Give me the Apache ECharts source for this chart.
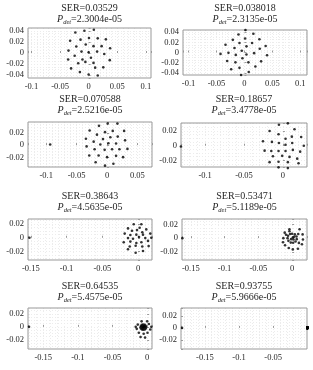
<!DOCTYPE html>
<html><head><meta charset="utf-8">
<script src="https://cdn.jsdelivr.net/npm/echarts@6/dist/echarts.min.js"></script>
<style>html,body{margin:0;padding:0;background:#fff}#c{width:313px;height:370px}</style>
</head><body><div id="c"></div>
<script>
const serLabels = ['0.03529','0.038018','0.070588','0.18657','0.38643','0.53471','0.64535','0.93755'];
const pdetLabels = ['2.3004e-05','2.3135e-05','2.5216e-05','3.4778e-05','4.5635e-05','5.1189e-05','5.4575e-05','5.9666e-05'];

const pts1 = [[-0.0233,0.0369],[-0.0074,0.040],[0.0091,0.0418],
 [-0.0324,0.0221],[-0.0142,0.024],[0.0006,0.027],[0.0159,0.0264],[0.0301,0.0246],
 [-0.0216,0.0117],[-0.0051,0.0154],[0.0085,0.0123],[0.0227,0.0123],
 [-0.0352,0.0043],[-0.0125,0.0025],[0.0,0.0012],[0.0148,0.0025],[0.0375,0.0086],
 [-0.0358,-0.0117],[-0.0244,-0.0049],[-0.0108,-0.0117],[0.004,-0.0086],[0.0273,-0.0018],
 [-0.0182,-0.0185],[-0.0057,-0.016],[0.0085,-0.0178],[0.0369,-0.0129],
 [-0.0307,-0.0277],[0.0114,-0.0264],[0.0256,-0.0258],
 [-0.0153,-0.0344],[0.0,-0.0387],[0.0159,-0.0406]];
const pts2 = [[0.0018,0.044],[-0.0107,0.0353],[0.016,0.0367],
 [-0.0208,0.0247],[0.0012,0.0273],[0.0268,0.026],
 [-0.0339,0.0153],[-0.0089,0.0187],[0.0137,0.0187],[0.0036,0.012],[0.038,0.0127],
 [-0.0178,0.0087],[-0.0048,0.0033],[0.0274,0.0073],
 [-0.0428,-0.0027],[-0.0286,-0.0007],[-0.0155,-0.0047],[0.0036,-0.004],[0.0173,-0.0013],[0.0405,-0.0053],
 [-0.0036,-0.0113],
 [-0.0309,-0.0167],[-0.0161,-0.0193],[0.0071,-0.0193],[0.0298,-0.0173],
 [-0.0238,-0.0327],[-0.0089,-0.03],[0.0196,-0.0273],
 [0.0077,-0.038],[-0.006,-0.044]];
const pts3 = [[-0.0132,0.0317],[0.0011,0.0354],[0.0171,0.0354],
 [-0.0286,0.0239],[-0.0033,0.0213],[0.0094,0.0234],[0.0281,0.0234],
 [-0.0165,0.0172],[0.0055,0.013],[0.0176,0.014],
 [-0.0347,0.0104],[-0.022,0.0057],[-0.0066,0.0099],[0.0022,0.0031],[0.0149,0.0026],[0.0297,0.0078],
 [-0.0935,0.001],
 [-0.0336,-0.0021],[-0.011,0.001],[0.0083,-0.0068],
 [-0.0204,-0.0068],[-0.0039,-0.0078],[0.0204,-0.0068],[0.0336,-0.0062],
 [-0.0292,-0.0172],[-0.0138,-0.0172],[0.0,-0.0198],[0.0149,-0.0177],[0.0264,-0.0198],
 [-0.0187,-0.0281],[0.0105,-0.0307],[-0.0033,-0.0338]];
const pts4 = [[-0.0051,0.0286],[0.0064,0.0305],
 [-0.0171,0.02],[0.0149,0.0224],[-0.0056,0.0157],
 [0.0034,0.0095],[0.0115,0.0124],[0.0235,0.0119],
 [-0.0256,0.0062],[-0.0141,0.0052],[-0.0051,0.0038],[0.0034,0.0014],[0.012,0.0038],[0.0269,0.0],
 [-0.0235,-0.0067],[-0.0149,-0.0071],[-0.0056,-0.0071],[0.0034,-0.0071],[0.0128,-0.0057],[0.0222,-0.0081],
 [-0.0128,-0.0143],[-0.0009,-0.0138],[0.0085,-0.0152],[0.0184,-0.0176],
 [-0.0171,-0.0224],[-0.0056,-0.0219],[0.0064,-0.0224],[0.0201,-0.0238],
 [-0.0056,-0.0295],[0.0064,-0.0305],
 [-0.1311,-0.001]];
const pts5 = [[-0.006,0.0195],[0.0047,0.0195],[-0.014,0.0135],[0.0116,0.012],[0.0023,0.0145],
 [-0.0084,0.01],[-0.0014,0.011],[0.006,0.008],
 [-0.0186,0.006],[-0.0107,0.004],[-0.0023,0.0045],[0.007,0.0045],[0.0172,0.006],
 [-0.014,-0.0005],[-0.007,-0.0015],[0.0014,0.001],[0.0102,-0.0005],[0.0186,0.0],
 [-0.02,-0.0065],[-0.0107,-0.0055],[-0.0023,-0.0075],[0.0047,-0.0065],[0.014,-0.0045],
 [-0.0116,-0.0125],[-0.0033,-0.0115],[0.006,-0.0125],[0.0149,-0.012],
 [-0.014,-0.0165],[0.007,-0.019],[-0.0033,-0.0215],
 [-0.152,0.0]];
const pts6 = [[-0.004,0.013],[0.011,0.013],[-0.011,0.008],[-0.013,0.0],[-0.0135,-0.006],[-0.0105,-0.0105],
 [-0.005,-0.0145],[0.001,-0.0165],[0.0085,-0.0155],[0.0145,-0.009],[0.016,-0.002],[0.0155,0.0055],
 [0.0,0.0065],[0.004,0.0055],[0.0065,0.0025],[0.0068,-0.0015],[0.005,-0.005],[0.0015,-0.0068],
 [-0.002,-0.0065],[-0.0055,-0.004],[-0.0068,0.0],[-0.006,0.0035],[-0.003,0.006],
 [0.001,0.001],[-0.0015,-0.0015],[0.002,-0.002],[0.003,0.002],
 [0.009,0.006],[-0.009,0.005],[0.01,-0.007],[-0.004,0.01],
 [-0.1625,0.0]];
const pts7 = [[-0.008,0.0085],[0.0,0.0085],[-0.0135,0.0035],[0.0025,0.0045],[-0.015,-0.003],[0.0045,-0.004],
 [-0.012,-0.009],[-0.005,-0.0105],[0.0005,-0.009],[-0.0095,-0.0155],[-0.003,-0.0165],[0.006,0.0],[-0.0165,0.0],
 [-0.0055,0.0035],[-0.0035,0.003],[-0.002,0.0015],[-0.0015,-0.0005],[-0.002,-0.0025],[-0.0035,-0.004],
 [-0.0055,-0.0045],[-0.0075,-0.004],[-0.009,-0.0025],[-0.0095,-0.0005],[-0.009,0.0015],[-0.0075,0.003],
 [-0.0055,-0.0005],[-0.005,0.001],[-0.006,-0.002],[-0.004,-0.001],[-0.007,0.0],[-0.0045,0.0005],
 [-0.1705,0.0]];
const pts8 = [[0,0],[0,0],[0,0],[0,0],[0,0],[0,0],[0,0],[0,0],[0,0],[0,0],[0,0],[0,0],[0,0],[0,0],[0,0],[0,0],
 [0,0],[0,0],[0,0],[0,0],[0,0],[0,0],[0,0],[0,0],[0,0],[0,0],[0,0],[0,0],[0,0],[0,0],[0,0],
 [-0.1835,0.0]];
const allPts = [pts1,pts2,pts3,pts4,pts5,pts6,pts7,pts8];

const xMins = [-0.106,-0.11,-0.13,-0.131,-0.154,-0.163,-0.172,-0.185];
const xMaxs = [0.109,0.112,0.074,0.031,0.0196,0.022,0.007,-0.0005];
const yMins = [-0.045,-0.044,-0.036,-0.029,-0.032,-0.032,-0.034,-0.035];
const yMaxs = [0.045,0.044,0.038,0.031,0.027,0.028,0.029,0.033];
const xMajorStep = 0.05, yMajorStep = 0.02, xMinorStep = 0.01, yMinorStep = 0.005;

// layout (pixels)
const layout = [
 {l:28,t:28,w:123,h:50},{l:183,t:30,w:124,h:45},
 {l:28,t:122,w:124,h:45},{l:181,t:123,w:126,h:44},
 {l:28,t:219,w:124,h:41},{l:182,t:219,w:125,h:41},
 {l:28,t:308,w:124,h:41},{l:181,t:308,w:126,h:41}];
const titleY = [[8,19],[8,19],[99,110],[99,110],[196,207],[196,207],[286,297],[286,297]];
const FF = 'Liberation Serif';
const TXT = '#262626';

function fmtFor(step){
  return function(v){
    const r = v/step;
    if (Math.abs(r-Math.round(r))>1e-6) return '';
    let s = String(parseFloat(v.toFixed(4)));
    if (s==='-0') s='0';
    return s;
  };
}

const grid=[], xAxis=[], yAxis=[], series=[], title=[];
for (let i=0;i<8;i++){
  const L=layout[i];
  grid.push({left:L.l,top:L.t,width:L.w,height:L.h,show:true,borderColor:'#999',borderWidth:1,backgroundColor:'rgba(0,0,0,0)',z:10});
  const cx = L.l + L.w/2;
  title.push({text:'SER='+serLabels[i],left:cx,top:titleY[i][0]-6,textAlign:'center',padding:0,
    textStyle:{fontFamily:FF,fontSize:10,fontWeight:'normal',color:TXT,lineHeight:12}});
  title.push({text:'{p|P}{s|det}{v|='+pdetLabels[i]+'}',left:cx,top:titleY[i][1]-7,textAlign:'center',padding:0,
    textStyle:{fontFamily:FF,fontSize:10,fontWeight:'normal',color:TXT,rich:{
      p:{fontFamily:FF,fontStyle:'italic',fontWeight:'normal',fontSize:10,lineHeight:14,color:TXT},
      s:{fontFamily:FF,fontStyle:'italic',fontWeight:'normal',fontSize:6.5,lineHeight:9,verticalAlign:'bottom',color:TXT},
      v:{fontFamily:FF,fontWeight:'normal',fontSize:10,lineHeight:14,color:TXT}}}});
  // major axes
  xAxis.push({gridIndex:i,type:'value',min:xMins[i],max:xMaxs[i],minInterval:xMajorStep,maxInterval:xMajorStep,
    axisLine:{show:false},axisTick:{show:true,inside:true,length:2,lineStyle:{color:'#999'}},
    axisLabel:{formatter:fmtFor(xMajorStep),fontFamily:FF,fontSize:8.5,color:TXT,margin:4},
    splitLine:{show:true,showMinLine:false,showMaxLine:false,lineStyle:{type:[1,2],color:'#d6d6d6',width:1}}});
  yAxis.push({gridIndex:i,type:'value',min:yMins[i],max:yMaxs[i],minInterval:yMajorStep,maxInterval:yMajorStep,
    axisLine:{show:false},axisTick:{show:true,inside:true,length:2,lineStyle:{color:'#999'}},
    axisLabel:{formatter:fmtFor(yMajorStep),fontFamily:FF,fontSize:8.5,color:TXT,margin:4},
    splitLine:{show:true,showMinLine:false,showMaxLine:false,lineStyle:{type:[1,2],color:'#d6d6d6',width:1}}});
  // minor axes
  xAxis.push({gridIndex:i,type:'value',min:xMins[i],max:xMaxs[i],minInterval:xMinorStep,maxInterval:xMinorStep,
    axisLine:{show:false},axisTick:{show:false},axisLabel:{show:false},
    splitLine:{show:true,showMinLine:false,showMaxLine:false,lineStyle:{type:[1,2],color:'#ececec',width:1}}});
  yAxis.push({gridIndex:i,type:'value',min:yMins[i],max:yMaxs[i],minInterval:yMinorStep,maxInterval:yMinorStep,
    axisLine:{show:false},axisTick:{show:false},axisLabel:{show:false},
    splitLine:{show:true,showMinLine:false,showMaxLine:false,lineStyle:{type:[1,2],color:'#ececec',width:1}}});
  series.push({type:'scatter',xAxisIndex:2*i,yAxisIndex:2*i,data:allPts[i],symbol:'circle',symbolSize:2.6,
    itemStyle:{color:'#000'},clip:false,z:20,silent:true});
}

const chart = echarts.init(document.getElementById('c'),null,{renderer:'canvas'});
chart.setOption({animation:false,backgroundColor:'#fff',title,grid,xAxis,yAxis,series});
</script>
</body></html>
